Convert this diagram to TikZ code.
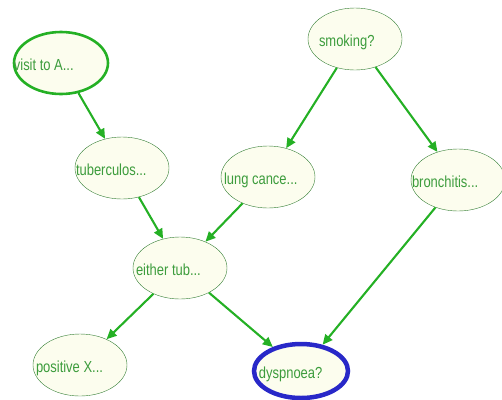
\documentclass[tikz,border=0pt]{standalone}
\usepackage{fontspec}
\newfontfamily\netfont[FakeStretch=0.81]{Liberation Sans}
\usetikzlibrary{arrows.meta, shapes.geometric}
\definecolor{nodefill}{HTML}{FCFDEE}
\definecolor{nodeline}{HTML}{357F35}
\definecolor{arcgreen}{HTML}{24B024}
\definecolor{textgreen}{HTML}{3C9C3C}
\definecolor{selblue}{HTML}{2828C8}

\begin{document}
\begin{tikzpicture}[x=1pt, y=-1pt,
  node/.style={draw=nodeline, ellipse, fill=nodefill, minimum width=94pt, minimum height=62pt, inner sep=0pt},
  lab/.style={anchor=base west, inner sep=0pt, xshift=1pt, yshift=-7pt, text=textgreen, font=\netfont\fontsize{16}{16}\selectfont},
  edge/.style={-{Triangle[length=10pt, width=9pt]}, arcgreen, line width=2.1pt},
  query/.style={draw=arcgreen, line width=2.6pt},
  target/.style={draw=selblue, line width=4.5pt, minimum height=54pt}
]
\useasboundingbox (0,0) rectangle (502,399);

\node[node, query] (Visit) at (61,63) {};
\node[node] (Smoke) at (355,39) {};
\node[node] (Tub) at (122,168) {};
\node[node] (Lung) at (268,177) {};
\node[node] (Bronc) at (458,180) {};
\node[node] (Either) at (180,268) {};
\node[node] (Xray) at (80,365) {};
\node[node, target] (Dysp) at (301,371) {};

\node[lab] (VisitT) at (Visit.west) {visit to A...};
\node[lab, xshift=10pt] (SmokeT) at (Smoke.west) {smoking?};
\node[lab] (TubT) at (Tub.west) {tuberculos...};
\node[lab, xshift=2pt] (LungT) at (Lung.west) {lung cance...};
\node[lab] (BroncT) at (Bronc.west) {bronchitis...};
\node[lab, xshift=2pt] (EitherT) at (Either.west) {either tub...};
\node[lab, xshift=2pt] (XrayT) at (Xray.west) {positive X...};
\node[lab, xshift=6pt] (DyspT) at (Dysp.west) {dyspnoea?};

\draw[edge] (Visit) -- (Tub);
\draw[edge] (Smoke) -- (Lung);
\draw[edge] (Smoke) -- (Bronc);
\draw[edge] (Tub) -- (Either);
\draw[edge] (Lung) -- (Either);
\draw[edge] (Either) -- (Xray);
\draw[edge] (Either) -- (Dysp);
\draw[edge] (Bronc) -- (Dysp);

\end{tikzpicture}
\end{document}
